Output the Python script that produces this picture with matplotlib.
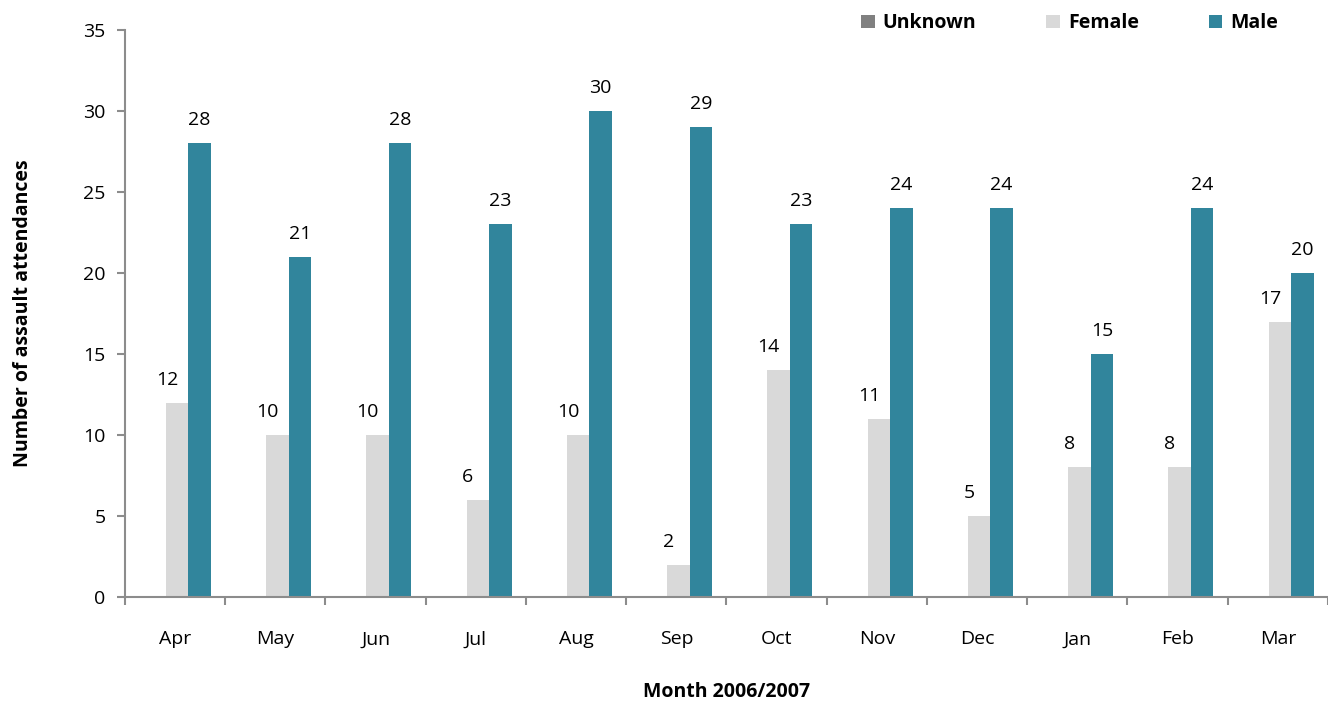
import numpy as np
import matplotlib
matplotlib.use("Agg")
from matplotlib import pyplot as plt

months = ['Apr', 'May', 'Jun', 'Jul', 'Aug', 'Sep', 'Oct', 'Nov', 'Dec', 'Jan', 'Feb', 'Mar']
unknown = [0, 0, 0, 0, 0, 0, 0, 0, 0, 0, 0, 0]
female = [12, 10, 10, 6, 10, 2, 14, 11, 5, 8, 8, 17]
male = [28, 21, 28, 23, 30, 29, 23, 24, 24, 15, 24, 20]

plt.rcParams['font.family'] = ['Open Sans', 'DejaVu Sans']
axis_grey = '#8c8c8c'

fig = plt.figure(figsize=(13.28, 7.02), dpi=100)
ax = fig.add_axes([0.0941, 0.1496, 0.9059, 0.8077])

x = np.arange(len(months)) + 0.02
w = 0.224
ax.bar(x - w, unknown, w, color='#808080', label='Unknown')
b_f = ax.bar(x, female, w, color='#d9d9d9', label='Female')
b_m = ax.bar(x + w, male, w, color='#31859c', label='Male')

# female labels sit a bit left of their bars, as in the original
for bars, vals, dx in [(b_f, female, -10), (b_m, male, 0)]:
    for b, v in zip(bars, vals):
        ax.annotate(str(v), (b.get_x() + b.get_width() / 2, v),
                    xytext=(dx, 14), textcoords='offset pixels',
                    ha='center', va='bottom', fontsize=14)

ax.set_xlim(-0.5, len(months) - 0.5)
ax.set_ylim(0, 35)
ax.set_yticks(range(0, 36, 5))
ax.set_xticks(np.arange(len(months)))
ax.set_xticklabels(months)
ax.set_xticks(np.arange(-0.5, len(months), 1), minor=True)
ax.tick_params(axis='x', which='major', length=0, pad=24, labelsize=14)
ax.tick_params(axis='x', which='minor', length=6, width=1.5, color=axis_grey, direction='out')
ax.tick_params(axis='y', length=6, width=1.5, color=axis_grey, labelsize=14, pad=8)

for s in ['top', 'right']:
    ax.spines[s].set_visible(False)
for s in ['left', 'bottom']:
    ax.spines[s].set_color(axis_grey)
    ax.spines[s].set_linewidth(1.5)

ax.set_ylabel('Number of assault attendances', fontsize=14, fontweight='bold', labelpad=36)
ax.set_xlabel('Month 2006/2007', fontsize=14, fontweight='bold', labelpad=24)

leg = ax.legend(loc='upper right', bbox_to_anchor=(0.973, 1.06), ncol=3, frameon=False,
                handlelength=0.7, handleheight=0.7, handletextpad=0.4, columnspacing=3.6,
                prop={'weight': 'bold', 'size': 14})

fig.savefig('out.png', dpi=100)
